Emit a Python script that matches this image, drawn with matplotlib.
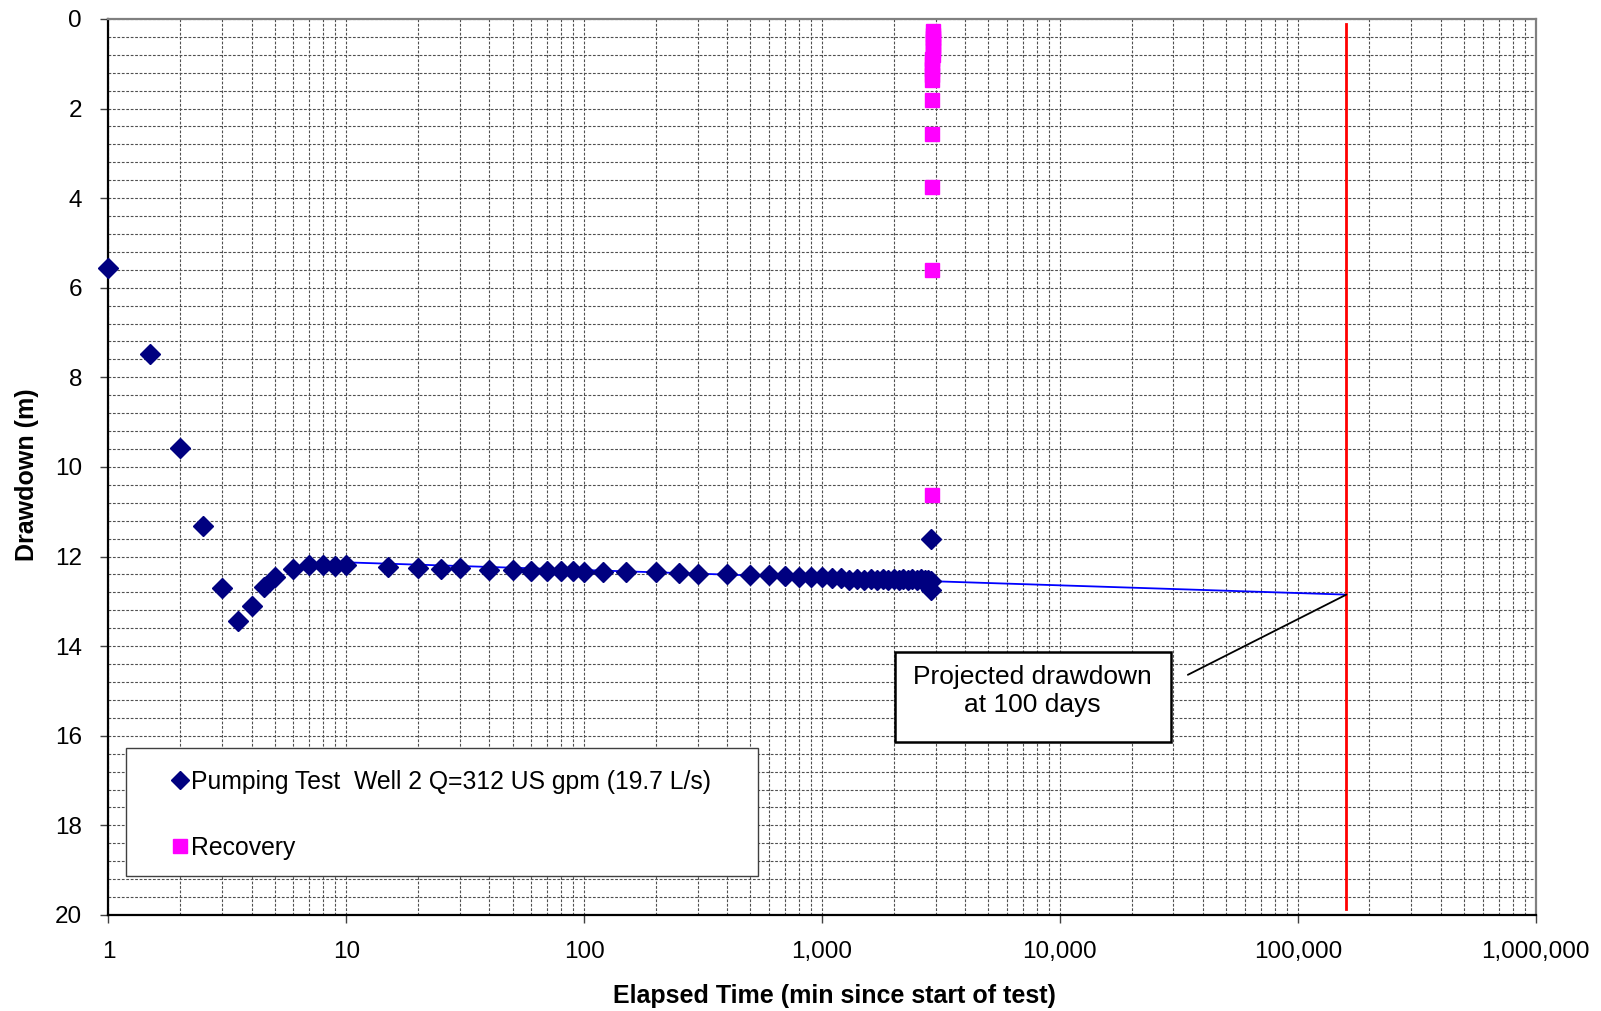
import matplotlib
matplotlib.use("Agg")
import matplotlib.pyplot as plt
from matplotlib.ticker import LogLocator, MultipleLocator, FixedLocator, FuncFormatter, NullFormatter
from matplotlib.patches import Rectangle
from matplotlib.lines import Line2D

# ----------------------------------------------------------------------
# Data
# ----------------------------------------------------------------------
pump_time = [1, 1.5, 2, 2.5, 3, 3.5, 4, 4.5, 5, 6, 7, 8, 9, 10,
             15, 20, 25, 30, 40, 50, 60, 70, 80, 90, 100, 120, 150,
             200, 250, 300, 400, 500, 600, 700, 800, 900, 1000,
             1100, 1200, 1300, 1400, 1500, 1600, 1700, 1800, 1900, 2000,
             2100, 2200, 2300, 2400, 2500, 2600, 2700, 2800, 2880, 2880, 2880]
pump_dd = [5.55, 7.48, 9.58, 11.31, 12.71, 13.44, 13.10, 12.69, 12.46, 12.28,
           12.20, 12.20, 12.21, 12.19,
           12.24, 12.26, 12.27, 12.26, 12.30, 12.31, 12.32, 12.33, 12.33, 12.33,
           12.34, 12.34, 12.35, 12.35, 12.37, 12.40, 12.40, 12.41, 12.42, 12.43,
           12.45, 12.45, 12.46, 12.47, 12.48, 12.53, 12.51, 12.52, 12.51, 12.52,
           12.50, 12.52, 12.51, 12.52, 12.51, 12.52, 12.51, 12.52, 12.51, 12.52,
           12.52, 12.55, 12.75, 11.60]

rec_time = [2895, 2897, 2899, 2901, 2903, 2905, 2907, 2909, 2911, 2913,
            2916, 2919, 2922, 2926, 2930, 2935, 2940]
rec_dd = [10.62, 5.60, 3.75, 2.56, 1.81, 1.37, 1.25, 1.12, 1.00, 0.90,
          0.80, 0.70, 0.60, 0.50, 0.42, 0.35, 0.28]

# projection line (fit through pumping data, extended to 100 days)
proj_time = [10, 2880, 160000]
proj_dd = [12.13, 12.55, 12.85]

limit_time = 160000
limit_dd = [0.12, 19.87]

x_ticks = [1, 10, 100, 1000, 10000, 100000, 1000000]
y_ticks = [0, 2, 4, 6, 8, 10, 12, 14, 16, 18, 20]

pump_label = "Pumping Test  Well 2 Q=312 US gpm (19.7 L/s)"
rec_label = "Recovery"
note_text = "Projected drawdown\nat 100 days"

# ----------------------------------------------------------------------
# Plot
# ----------------------------------------------------------------------
plt.rcParams["font.family"] = ["Liberation Sans", "DejaVu Sans"]

fig = plt.figure(figsize=(16.01, 10.11), dpi=100)
ax = fig.add_axes([0.0677, 0.095, 0.8915, 0.8863])

grid_kw = dict(color="#505050", linestyle=(0, (2.5, 1.5)), linewidth=0.8)
ax.set_xscale("log")
ax.set_xlim(x_ticks[0], x_ticks[-1])
ax.set_ylim(y_ticks[-1], y_ticks[0])
ax.xaxis.set_major_locator(FixedLocator(x_ticks))
ax.xaxis.set_minor_locator(LogLocator(base=10, subs=range(2, 10), numticks=20))
ax.xaxis.set_major_formatter(FuncFormatter(lambda v, p: f"{v:,.0f}"))
ax.xaxis.set_minor_formatter(NullFormatter())
ax.yaxis.set_major_locator(FixedLocator(y_ticks))
ax.yaxis.set_minor_locator(MultipleLocator(0.4))
ax.grid(True, which="both", **grid_kw)
ax.set_axisbelow(True)

ax.tick_params(axis="both", which="major", length=6, width=1, labelsize=17.5,
               direction="out", color="#404040")
ax.tick_params(axis="x", which="major", pad=13)
ax.tick_params(axis="y", which="major", pad=13)
ax.tick_params(axis="both", which="minor", length=0,
               labelbottom=False, labelleft=False)

for side in ["top", "right"]:
    ax.spines[side].set_color("#808080")
    ax.spines[side].set_linewidth(1.6)
for side in ["left", "bottom"]:
    ax.spines[side].set_color("black")
    ax.spines[side].set_linewidth(1.6)

ax.plot(proj_time, proj_dd, color="#0000FF", lw=1.3, zorder=3)
ax.plot([limit_time, limit_time], limit_dd, color="#FF0000", lw=2.0, zorder=3)

ax.plot(pump_time, pump_dd, linestyle="none", marker="D", ms=10,
        color="#000080", mec="#000080", clip_on=False, zorder=4)
ax.plot(rec_time, rec_dd, linestyle="none", marker="s", ms=10.5,
        color="#FF00FF", mec="#FF00FF", clip_on=False, zorder=4)

ax.set_xlabel("Elapsed Time (min since start of test)", fontsize=18, fontweight="bold")
ax.set_ylabel("Drawdown (m)", fontsize=18, fontweight="bold")
ax.xaxis.set_label_coords(0.509, -0.077)
ax.yaxis.set_label_coords(-0.0485, 0.491)

# annotation box and leader line
ax.annotate("", xy=(proj_time[-1], proj_dd[-1]), xytext=(34500, 14.64),
            arrowprops=dict(arrowstyle="-", color="black", lw=1.3,
                            shrinkA=0, shrinkB=0), zorder=5)
ax.add_patch(Rectangle((0.551, 0.1931), 0.1933, 0.1008, transform=ax.transAxes,
                       facecolor="white", edgecolor="black", lw=1.8, zorder=5))
ax.text(0.6475, 0.250, note_text, transform=ax.transAxes, ha="center", va="center",
        fontsize=19, linespacing=1.2, zorder=6)

# legend: frame drawn separately so the markers can sit close to the text
ax.add_patch(Rectangle((0.0123, 0.0435), 0.4429, 0.1429, transform=ax.transAxes,
                       facecolor="white", edgecolor="#404040", lw=1.0, zorder=5))
handles = [Line2D([], [], linestyle="none", marker="D", ms=9, color="#000080"),
           Line2D([], [], linestyle="none", marker="s", ms=10, color="#FF00FF")]
leg = ax.legend(handles, [pump_label, rec_label], loc="upper left",
                bbox_to_anchor=(0.0295, 0.186), frameon=False, fontsize=17.8,
                handlelength=0.6, handletextpad=0.15, labelspacing=1.68,
                borderpad=0.88, borderaxespad=0)
leg.set_zorder(6)

fig.savefig("out.png", dpi=100)
